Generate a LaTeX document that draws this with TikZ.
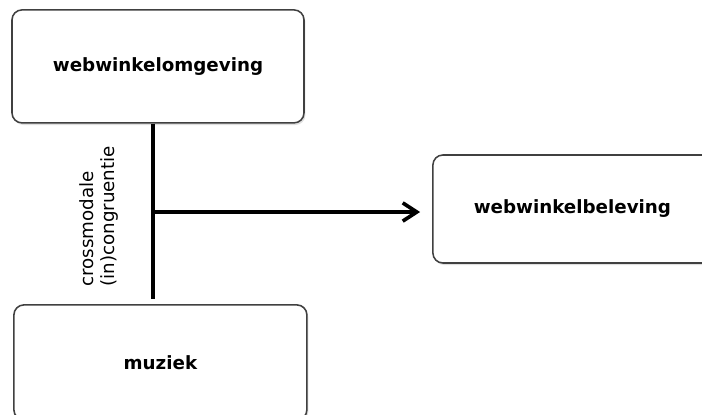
\documentclass[tikz,border=0pt]{standalone}
\usepackage{fontspec}
\setmainfont{DejaVu Sans}
\usetikzlibrary{arrows.meta, positioning, shadows}
\tikzstyle{box} = [rectangle, rounded corners=0.25cm, draw=black!75, line width=1.1pt, fill=white, drop shadow={opacity=0.25, shadow xshift=1pt, shadow yshift=-1.5pt}, font=\fontsize{13}{15}\selectfont\bfseries]
\tikzstyle{link} = [line width=2.6pt]
\tikzstyle{effect} = [-{Straight Barb[length=10pt, width=13pt]}, line width=2.6pt]
\tikzstyle{moderator} = [font=\fontsize{13}{14.5}\selectfont, align=left, rotate=90, inner sep=0pt]

\begin{document}
\begin{tikzpicture}
  \useasboundingbox (0,0) rectangle (17.55,10.35);
  \clip (0,0) rectangle (17.55,10.35);

  % kaders
  \node[box, minimum width=7.3cm, minimum height=2.825cm] (omgeving) at (3.95,8.69) {webwinkelomgeving};
  \node[box, minimum width=6.975cm, minimum height=2.7cm] (beleving) at (14.31,5.125) {webwinkelbeleving};
  \node[box, minimum width=7.325cm, minimum height=2.875cm] (muziek) at (4.01,1.29) {muziek};

  % verbindingen
  \coordinate (knik) at (3.825,5.05);
  \draw[link] (omgeving.south -| knik) -- ([yshift=0.125cm]muziek.north -| knik);
  \draw[effect] (knik) -- ([xshift=-0.3cm]beleving.west |- knik);

  % moderator
  \node[moderator, anchor=west] (congruentie) at (2.47,3.175) {crossmodale\\(in)congruentie};
\end{tikzpicture}
\end{document}
